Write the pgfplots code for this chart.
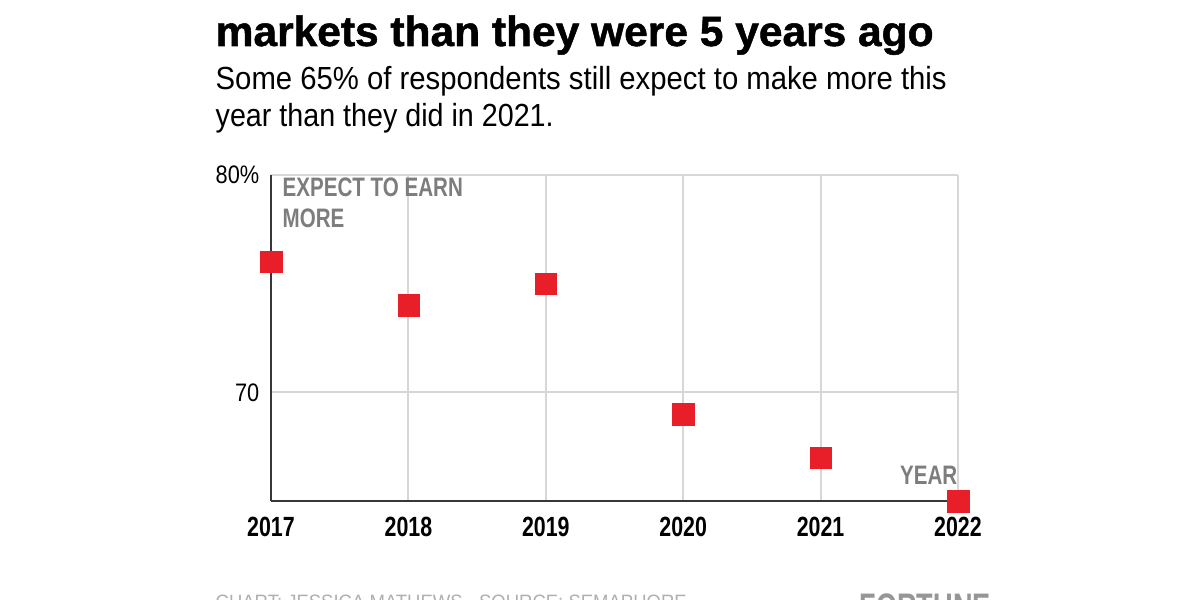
\documentclass[border=0pt]{standalone}
\usepackage{fontspec}
\setmainfont{Liberation Sans}
\newfontfamily\rc[FakeStretch=0.86]{Liberation Sans}
\newfontfamily\bc[FakeStretch=0.77]{Liberation Sans}
\newfontfamily\heavy[FakeBold=1.2]{Liberation Sans}
\usepackage{graphicx}
\usepackage{pgfplots}
\pgfplotsset{compat=1.18}
\definecolor{mred}{RGB}{232,30,40}
\definecolor{labc}{RGB}{125,125,125}
\definecolor{gridc}{RGB}{215,215,215}
\definecolor{axc}{RGB}{55,55,55}
\definecolor{footc}{RGB}{175,175,175}
\definecolor{logoc}{RGB}{150,150,150}
\begin{document}
\begin{tikzpicture}
\useasboundingbox (0,0) rectangle (12,6);
\clip (0,0) rectangle (12,6);
\fill[white] (0,0) rectangle (12,6);
% title (second line)
\node[anchor=base west, inner sep=0pt] at (2.15,5.54)
  {\resizebox{7.18cm}{\height}{\fontsize{12}{13}\selectfont\heavy\bfseries markets than they were 5 years ago}};
% subtitle
\node[anchor=base west, inner sep=0pt] at (2.15,5.10)
  {\resizebox{7.31cm}{\height}{\fontsize{9.1}{11}\selectfont Some 65\% of respondents still expect to make more this}};
\node[anchor=base west, inner sep=0pt] at (2.15,4.73)
  {\resizebox{3.38cm}{\height}{\fontsize{9.1}{11}\selectfont year than they did in 2021.}};
\begin{axis}[
  at={(2.71cm,0.99cm)}, anchor=south west,
  scale only axis, width=6.87cm, height=3.26cm,
  xmin=2017, xmax=2022, ymin=65, ymax=80,
  clip=false,
  axis x line*=bottom, axis y line*=left,
  axis line style={axc, line width=0.6pt, -},
  xtick={2017,2018,2019,2020,2021,2022},
  xticklabels={2017,2018,2019,2020,2021,2022},
  ytick={70,80}, yticklabels={70,80\%},
  major tick length=0pt,
  grid=major,
  grid style={gridc, line width=0.6pt},
  xticklabel style={font=\bc\bfseries\fontsize{7.9}{9}\selectfont, anchor=north, inner sep=0pt, yshift=-0.15cm, text=black},
  yticklabel style={font=\rc\fontsize{7.2}{9}\selectfont, anchor=east, inner sep=0pt, xshift=-0.11cm, text=black},
]
\addplot[mred, only marks, mark=square*, mark size=3.05pt, mark options={fill=mred, draw=mred, line width=0.1pt}]
  coordinates {(2017,76) (2018,74) (2019,75) (2020,69) (2021,67) (2022,65)};
\end{axis}
% annotations
\node[anchor=base west, inner sep=0pt, text=labc] at (2.82,4.03)
  {\bc\bfseries\fontsize{7.6}{9}\selectfont EXPECT TO EARN};
\node[anchor=base west, inner sep=0pt, text=labc] at (2.82,3.72)
  {\bc\bfseries\fontsize{7.6}{9}\selectfont MORE};
\node[anchor=base east, inner sep=0pt, text=labc] at (9.58,1.16)
  {\bc\bfseries\fontsize{7.6}{9}\selectfont YEAR};
% footer (cut off at the bottom edge, as in the reference)
\node[anchor=base west, inner sep=0pt, text=footc] at (2.15,-0.09)
  {\resizebox{4.71cm}{\height}{\fontsize{5.5}{7}\selectfont CHART: JESSICA MATHEWS \textperiodcentered\ SOURCE: SEMAPHORE}};
\node[anchor=base west, inner sep=0pt, text=logoc] at (8.59,-0.20)
  {\resizebox{1.31cm}{\height}{\fontsize{10.5}{12}\selectfont\bfseries FORTUNE}};
\end{tikzpicture}
\end{document}
